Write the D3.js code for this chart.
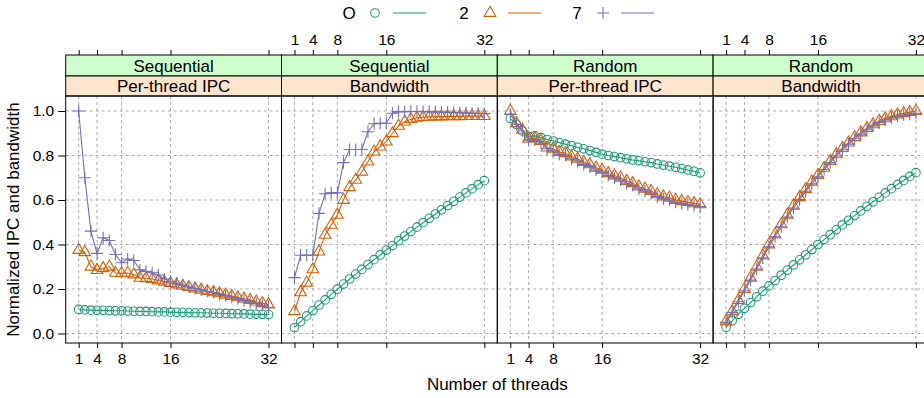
<!DOCTYPE html>
<html>
<head>
<meta charset="utf-8">
<script src="https://cdn.jsdelivr.net/npm/d3@7"></script>
<style>
  html, body { margin: 0; padding: 0; background: #fff; }
  svg { display: block; font-family: "Liberation Sans", Arial, Helvetica, sans-serif; }
</style>
</head>
<body>
<svg id="chart" width="924" height="398"></svg>
<script>
// Thread counts on the x axis
const threads = [1,2,3,4,5,6,7,8,9,10,11,12,13,14,15,16,17,18,19,20,21,22,23,24,25,26,27,28,29,30,31,32];
const xTicks = [1, 4, 8, 16, 32];
const yTicks = [0, 0.2, 0.4, 0.6, 0.8, 1.0];

// Series keys and the panels (access pattern x metric)
const seriesNames = ["O", "2", "7"];
const patterns = ["Sequential", "Sequential", "Random", "Random"];
const metrics = ["Per-thread IPC", "Bandwidth", "Per-thread IPC", "Bandwidth"];

// Sequential / per-thread IPC
const seqIpcO = [0.108,0.106,0.105,0.104,0.104,0.103,0.102,0.102,0.101,0.100,0.099,0.099,0.098,0.097,0.097,0.096,0.095,0.095,0.094,0.093,0.093,0.092,0.091,0.091,0.090,0.089,0.089,0.088,0.087,0.086,0.086,0.085];
const seqIpc2 = [0.375,0.365,0.300,0.285,0.293,0.300,0.272,0.270,0.272,0.265,0.250,0.248,0.245,0.238,0.232,0.226,0.220,0.214,0.208,0.202,0.196,0.190,0.185,0.180,0.174,0.168,0.162,0.156,0.150,0.143,0.136,0.130];
const seqIpc7 = [1.000,0.700,0.460,0.360,0.430,0.418,0.355,0.318,0.335,0.328,0.286,0.279,0.273,0.263,0.245,0.234,0.226,0.218,0.210,0.203,0.196,0.190,0.183,0.177,0.170,0.163,0.156,0.149,0.142,0.135,0.127,0.118];

// Sequential / bandwidth
const seqBwO = [0.027,0.053,0.079,0.103,0.128,0.151,0.176,0.199,0.222,0.245,0.267,0.288,0.310,0.332,0.353,0.375,0.395,0.417,0.438,0.458,0.478,0.498,0.518,0.537,0.556,0.575,0.594,0.613,0.632,0.651,0.669,0.687];
const seqBw2 = [0.100,0.185,0.228,0.288,0.368,0.443,0.488,0.533,0.600,0.657,0.690,0.727,0.772,0.817,0.840,0.862,0.900,0.933,0.952,0.963,0.969,0.972,0.974,0.975,0.975,0.976,0.976,0.976,0.977,0.977,0.977,0.977];
const seqBw7 = [0.251,0.352,0.352,0.352,0.540,0.628,0.632,0.632,0.768,0.827,0.827,0.827,0.907,0.943,0.945,0.945,0.990,0.997,0.997,0.998,0.998,0.997,0.997,0.996,0.995,0.994,0.993,0.992,0.991,0.990,0.989,0.988];

// Random / per-thread IPC
const rndIpcO = [0.967,0.940,0.910,0.885,0.888,0.880,0.872,0.865,0.858,0.851,0.844,0.837,0.830,0.822,0.814,0.806,0.800,0.795,0.790,0.785,0.780,0.776,0.772,0.768,0.762,0.757,0.752,0.747,0.741,0.735,0.729,0.722];
const rndIpc2 = [1.000,0.945,0.915,0.875,0.878,0.865,0.835,0.830,0.815,0.810,0.795,0.785,0.770,0.760,0.745,0.735,0.720,0.710,0.700,0.685,0.675,0.660,0.650,0.640,0.625,0.615,0.610,0.600,0.595,0.590,0.585,0.580];
const rndIpc7 = [0.985,0.940,0.910,0.870,0.870,0.855,0.830,0.820,0.805,0.800,0.785,0.775,0.760,0.750,0.735,0.725,0.710,0.700,0.690,0.675,0.665,0.650,0.640,0.630,0.615,0.605,0.600,0.590,0.585,0.580,0.575,0.570];

// Random / bandwidth
const rndBwO = [0.028,0.057,0.086,0.113,0.139,0.165,0.190,0.214,0.238,0.262,0.285,0.308,0.331,0.354,0.377,0.400,0.422,0.444,0.466,0.488,0.509,0.530,0.551,0.572,0.592,0.612,0.632,0.651,0.670,0.688,0.706,0.723];
const rndBw2 = [0.055,0.100,0.150,0.200,0.250,0.300,0.350,0.400,0.445,0.490,0.533,0.574,0.612,0.648,0.682,0.712,0.744,0.775,0.805,0.833,0.858,0.882,0.903,0.923,0.940,0.955,0.967,0.976,0.984,0.990,0.995,1.000];
const rndBw7 = [0.050,0.095,0.143,0.192,0.240,0.290,0.340,0.390,0.435,0.480,0.523,0.564,0.602,0.639,0.673,0.704,0.737,0.768,0.798,0.826,0.851,0.875,0.896,0.916,0.933,0.948,0.960,0.970,0.977,0.982,0.986,0.990];

const panelSeries = [
  [seqIpcO, seqIpc2, seqIpc7],
  [seqBwO, seqBw2, seqBw7],
  [rndIpcO, rndIpc2, rndIpc7],
  [rndBwO, rndBw2, rndBw7]
];

const colors = ["#1B9E77", "#D95F02", "#7570B3"];

// Layout
const left = 65.7, panelW = 215.8;
const plotTop = 96, plotBottom = 343;
const stripTop = 55, stripMid = 76;
const tickLen = 5;

const svg = d3.select("#chart");

const x = d3.scaleLinear().domain([-1.12, 34.12]).range([0, panelW]);
const y = d3.scaleLinear().domain([-0.0427, 1.0674]).range([plotBottom, plotTop]);

// Marker shapes (circle, triangle, plus)
const r = 4.3;
function markerPath(k) {
  if (k === 1) {
    const t = 1.5551 * r, b = 0.7776 * r, h = 1.3468 * r;
    return `M0,${-t}L${h},${b}L${-h},${b}Z`;
  }
  const a = 1.4142 * r;
  return `M${-a},0H${a}M0,${-a}V${a}`;
}
function drawMarker(g, k, cx, cy) {
  if (k === 0) {
    g.append("circle").attr("cx", cx).attr("cy", cy).attr("r", r)
      .attr("fill", "none").attr("stroke", colors[0]).attr("stroke-width", 1.1);
  } else {
    g.append("path").attr("d", markerPath(k)).attr("transform", `translate(${cx},${cy})`)
      .attr("fill", "none").attr("stroke", colors[k]).attr("stroke-width", 1.1);
  }
}

const line = d3.line().x((d, i) => x(threads[i])).y(d => y(d));

panelSeries.forEach((series, p) => {
  const g = svg.append("g").attr("transform", `translate(${left + p * panelW},0)`);

  // grid
  const grid = g.append("g").attr("stroke", "#aaaaaa").attr("stroke-width", 1).attr("stroke-dasharray", "3,3");
  xTicks.forEach(t => grid.append("line").attr("x1", x(t)).attr("x2", x(t)).attr("y1", plotTop).attr("y2", plotBottom));
  yTicks.forEach(t => grid.append("line").attr("x1", 0).attr("x2", panelW).attr("y1", y(t)).attr("y2", y(t)));

  // clip for data
  const clipId = "clip" + p;
  g.append("clipPath").attr("id", clipId).append("rect")
    .attr("x", 0).attr("y", plotTop).attr("width", panelW).attr("height", plotBottom - plotTop);
  const data = g.append("g").attr("clip-path", `url(#${clipId})`);

  series.forEach((vals, k) => {
    data.append("path").datum(vals).attr("d", line)
      .attr("fill", "none").attr("stroke", colors[k]).attr("stroke-width", 1.1);
    vals.forEach((v, i) => drawMarker(data, k, x(threads[i]), y(v)));
  });

  // strips
  g.append("rect").attr("x", 0).attr("y", stripTop).attr("width", panelW).attr("height", stripMid - stripTop)
    .attr("fill", "#CCFFCC").attr("stroke", "#000").attr("stroke-width", 1);
  g.append("rect").attr("x", 0).attr("y", stripMid).attr("width", panelW).attr("height", plotTop - stripMid)
    .attr("fill", "#FFE5CC").attr("stroke", "#000").attr("stroke-width", 1);
  g.append("text").attr("x", panelW / 2).attr("y", (stripTop + stripMid) / 2 + 0.5)
    .attr("text-anchor", "middle").attr("dominant-baseline", "central")
    .attr("font-size", 17).text(patterns[p]);
  g.append("text").attr("x", panelW / 2).attr("y", (stripMid + plotTop) / 2 + 0.5)
    .attr("text-anchor", "middle").attr("dominant-baseline", "central")
    .attr("font-size", 17).text(metrics[p]);

  // panel border
  g.append("rect").attr("x", 0).attr("y", plotTop).attr("width", panelW).attr("height", plotBottom - plotTop)
    .attr("fill", "none").attr("stroke", "#000").attr("stroke-width", 1);

  // x axes: labels alternate bottom / top, ticks on both sides
  const labelBottom = p % 2 === 0;
  const axB = d3.axisBottom(x).tickValues(xTicks).tickSize(tickLen).tickPadding(5)
    .tickFormat(labelBottom ? d3.format("d") : () => "");
  const axT = d3.axisTop(x).tickValues(xTicks).tickSize(tickLen).tickPadding(5)
    .tickFormat(labelBottom ? () => "" : d3.format("d"));
  const gb = g.append("g").attr("transform", `translate(0,${plotBottom})`).call(axB);
  const gt = g.append("g").attr("transform", `translate(0,${stripTop})`).call(axT);
  [gb, gt].forEach(a => {
    a.select(".domain").remove();
    a.selectAll("line").attr("stroke", "#000");
    a.selectAll("text").attr("font-size", 15.5).attr("fill", "#000")
      .attr("font-family", "'Liberation Sans', Arial, sans-serif");
  });
});

// y axis on the left of the first panel
const ay = d3.axisLeft(y).tickValues(yTicks).tickSize(tickLen + 2.5).tickPadding(4).tickFormat(d3.format(".1f"));
const gy = svg.append("g").attr("transform", `translate(${left},0)`).call(ay);
gy.select(".domain").remove();
gy.selectAll("line").attr("stroke", "#000");
gy.selectAll("text").attr("font-size", 15.5).attr("fill", "#000")
  .attr("font-family", "'Liberation Sans', Arial, sans-serif");

// y ticks on the right of the last panel
const ayR = d3.axisRight(y).tickValues(yTicks).tickSize(tickLen + 2.5).tickFormat(() => "");
const gyR = svg.append("g").attr("transform", `translate(${left + 4 * panelW},0)`).call(ayR);
gyR.select(".domain").remove();
gyR.selectAll("line").attr("stroke", "#000");

// axis titles
svg.append("text").attr("x", left + 2 * panelW).attr("y", 384)
  .attr("text-anchor", "middle").attr("dominant-baseline", "central")
  .attr("font-size", 17).text("Number of threads");
svg.append("text").attr("transform", `translate(13,${(plotTop + plotBottom) / 2}) rotate(-90)`)
  .attr("text-anchor", "middle").attr("dominant-baseline", "central")
  .attr("font-size", 17).text("Normalized IPC and bandwidth");

// legend
const legendX = [349, 464, 577];
const legY = 13;
seriesNames.forEach((name, k) => {
  const lx = legendX[k];
  svg.append("text").attr("x", lx).attr("y", legY).attr("text-anchor", "middle")
    .attr("dominant-baseline", "central").attr("font-size", 17).text(name);
  drawMarker(svg, k, lx + 26, legY);
  svg.append("line").attr("x1", lx + 44).attr("x2", lx + 77).attr("y1", legY).attr("y2", legY)
    .attr("stroke", colors[k]).attr("stroke-width", 1.1);
});
</script>
</body>
</html>
